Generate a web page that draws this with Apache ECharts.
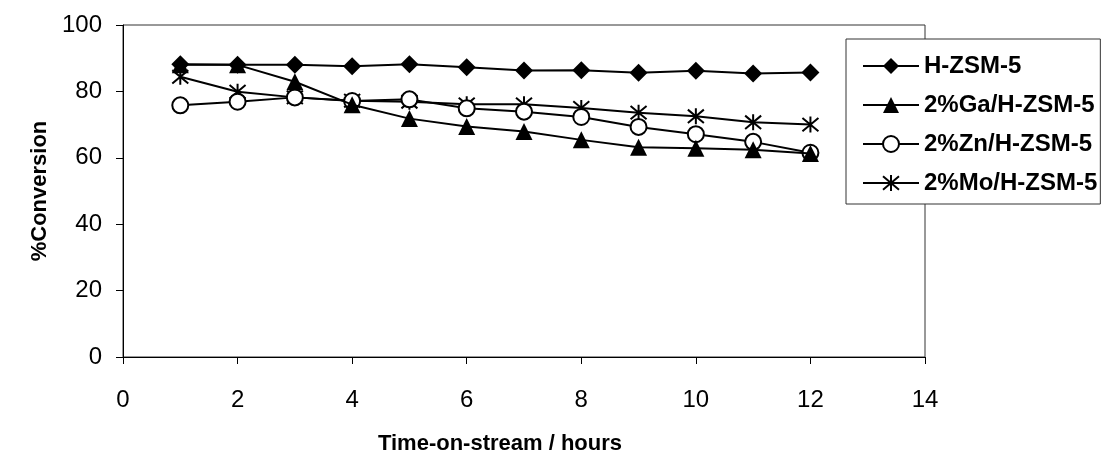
<!DOCTYPE html>
<html>
<head>
<meta charset="utf-8">
<script src="https://cdn.jsdelivr.net/npm/echarts@6/dist/echarts.min.js"></script>
<style>html,body{margin:0;padding:0;background:#fff;}#c{width:1105px;height:457px;}</style>
</head>
<body>
<div id="c"></div>
<script>
const hours = [1,2,3,4,5,6,7,8,9,10,11,12];
const seriesNames = ['H-ZSM-5','2%Ga/H-ZSM-5','2%Zn/H-ZSM-5','2%Mo/H-ZSM-5'];
const hzsm5 = [88.2,88.0,88.0,87.6,88.2,87.3,86.3,86.4,85.6,86.2,85.4,85.7];
const ga = [88.0,88.0,82.9,76.0,71.8,69.4,67.9,65.4,63.2,62.9,62.4,61.3];
const zn = [75.8,76.9,78.2,77.1,77.6,74.9,73.9,72.3,69.3,67.1,64.8,61.5];
const mo = [84.4,79.9,78.2,77.2,76.9,76.1,76.1,75.0,73.6,72.5,70.7,70.0];
const yTicks = [0,20,40,60,80,100];
const xTicks = [0,2,4,6,8,10,12,14];

const FONT = 'Liberation Sans, Arial, sans-serif';
const star = 'path://M0,0L10,10M10,0L0,10M5,-1L5,11';
const symbols = ['diamond','triangle','circle', star];
const sizes = [18,17,16,16];
const data = [hzsm5, ga, zn, mo];

const series = seriesNames.map((n,i)=>({
  name:n, type:'line',
  data: hours.map((h,j)=>[h,data[i][j]]),
  symbol: symbols[i], symbolSize: sizes[i],
  showAllSymbol:true,
  lineStyle:{color:'#000',width:2},
  itemStyle: i===2 ? {color:'#fff',borderColor:'#000',borderWidth:2}
           : i===3 ? {color:'#000',borderColor:'#000',borderWidth:2}
           : {color:'#000',borderColor:'#000',borderWidth:0},
  emphasis:{disabled:true},
  z: 10 - i
}));

const chart = echarts.init(document.getElementById('c'), null, {renderer:'canvas'});
chart.setOption({
  animation:false,
  backgroundColor:'#fff',
  grid:{left:123,right:180,top:25,bottom:100,containLabel:false,outerBoundsMode:'none',
    show:true,borderColor:'#333',borderWidth:1,backgroundColor:'transparent'},
  xAxis:{type:'value',min:xTicks[0],max:xTicks[xTicks.length-1],interval:2,
    name:'Time-on-stream / hours',nameLocation:'middle',nameGap:76,
    nameTextStyle:{fontFamily:FONT,fontSize:22,fontWeight:'bold',color:'#000',padding:[0,48,0,0]},
    axisLine:{show:true,onZero:false,lineStyle:{color:'#000',width:1}},
    axisTick:{show:true,inside:false,length:7,lineStyle:{color:'#000'}},
    axisLabel:{fontFamily:FONT,fontSize:24,color:'#000',margin:31},
    splitLine:{show:false}},
  yAxis:{type:'value',min:yTicks[0],max:yTicks[yTicks.length-1],interval:20,
    name:'%Conversion',nameLocation:'middle',nameGap:72,nameRotate:90,
    nameTextStyle:{fontFamily:FONT,fontSize:22,fontWeight:'bold',color:'#000'},
    axisLine:{show:true,onZero:false,lineStyle:{color:'#000',width:1}},
    axisTick:{show:true,inside:false,length:7,lineStyle:{color:'#000'}},
    axisLabel:{fontFamily:FONT,fontSize:24,color:'#000',margin:21},
    splitLine:{show:false}},
  legend:{
    orient:'vertical', left:846, top:39,
    padding:[15,3,9,16],
    backgroundColor:'#fff', borderColor:'#333', borderWidth:1,
    itemWidth:56, itemHeight:20, itemGap:15,
    textStyle:{fontFamily:FONT,fontSize:24,fontWeight:'bold',color:'#000'},
    data: seriesNames,
    selectedMode:false
  },
  series: series
});
</script>
</body>
</html>
